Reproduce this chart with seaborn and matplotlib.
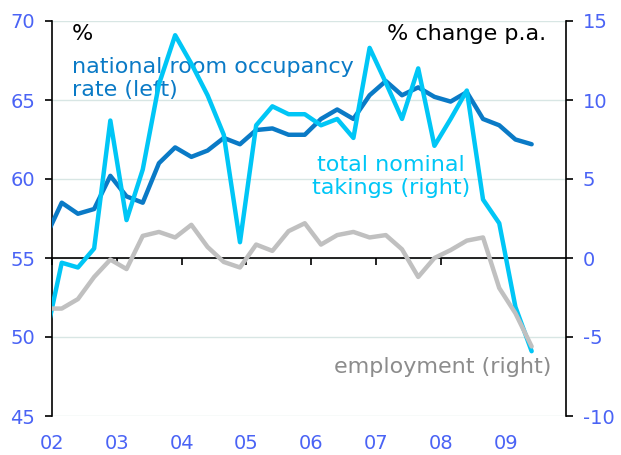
import numpy as np
import pandas as pd
import matplotlib
matplotlib.use("Agg")
import matplotlib.pyplot as plt
import seaborn as sns

# ---- data (quarterly; first quarter lies just left of the visible range) ----
quarters = pd.period_range("2001Q4", "2009Q2", freq="Q")
occupancy = [56.3, 58.5, 57.8, 58.1, 60.2, 58.9, 58.5, 61.0, 62.0, 61.4, 61.8,
             62.6, 62.2, 63.1, 63.2, 62.8, 62.8, 63.8, 64.4, 63.8, 65.3,
             66.2, 65.3, 65.8, 65.2, 64.9, 65.5, 63.8, 63.4, 62.5, 62.2]
takings = [-5.1, -0.3, -0.6, 0.6, 8.7, 2.4, 5.6, 11.0, 14.1, 12.3, 10.3,
           7.8, 1.0, 8.4, 9.6, 9.1, 9.1, 8.4, 8.8, 7.6, 13.3,
           11.1, 8.8, 12.0, 7.1, 8.8, 10.6, 3.7, 2.2, -3.1, -5.9]
employment = [-3.2, -3.2, -2.6, -1.2, -0.1, -0.7, 1.4, 1.65, 1.3, 2.1, 0.7,
              -0.25, -0.6, 0.85, 0.45, 1.7, 2.2, 0.85, 1.45, 1.65, 1.3,
              1.45, 0.55, -1.2, 0.0, 0.5, 1.1, 1.3, -1.9, -3.5, -5.6]
year_ticks = [2002, 2003, 2004, 2005, 2006, 2007, 2008, 2009]
year_labels = ["02", "03", "04", "05", "06", "07", "08", "09"]
left_ticks = [45, 50, 55, 60, 65, 70]
right_ticks = [-10, -5, 0, 5, 10, 15]

x = np.array([q.year + (q.quarter - 1) / 4 + 0.15 for q in quarters])

# ---- style ----
sns.set_style("white")
plt.rcParams["font.family"] = ["DejaVu Sans"]
plt.rcParams["axes.unicode_minus"] = False
TICK_BLUE = "#4a63f5"
DARK = "#0a7ac6"
CYAN = "#00c6f6"
GREY = "#c0c0c0"
FS = 14
TFS = 16

fig = plt.figure(figsize=(6.21, 4.55), dpi=100)
ax = fig.add_axes([52 / 621, 1 - 416 / 455, (566 - 52) / 621, (416 - 21) / 455])
ax2 = ax.twinx()

sns.lineplot(x=x, y=occupancy, ax=ax, color=DARK, lw=3.2, zorder=3)
sns.lineplot(x=x, y=takings, ax=ax2, color=CYAN, lw=3.2, zorder=3)
sns.lineplot(x=x, y=employment, ax=ax2, color=GREY, lw=3.2, zorder=4)

ax.set_xlim(2002, 2009.93)
ax.set_ylim(45, 70)
ax2.set_ylim(-10, 15)

# grid
ax.set_yticks(left_ticks)
ax.grid(axis="y", color="#d8e6e4", lw=1)
ax.grid(axis="x", visible=False)
ax2.grid(False)
ax2.set_yticks(right_ticks)

# spines
for s in ["top", "bottom", "right"]:
    ax.spines[s].set_visible(False)
ax.spines["left"].set_color("black")
ax.spines["left"].set_linewidth(1.2)
ax2.spines["top"].set_visible(False)
ax2.spines["left"].set_visible(False)
ax2.spines["right"].set_color("black")
ax2.spines["right"].set_linewidth(1.2)
ax2.spines["bottom"].set_position(("data", 0))
ax2.spines["bottom"].set_color("black")
ax2.spines["bottom"].set_linewidth(1.2)
ax2.spines["bottom"].set_visible(True)

# x ticks: labels on ax at bottom, tick marks on the zero line (ax2)
ax.set_xticks(year_ticks)
ax.set_xticklabels(year_labels)
ax.tick_params(axis="x", length=0, pad=13, labelsize=FS, labelcolor=TICK_BLUE)
ax2.xaxis.set_visible(True)
ax2.set_xticks(year_ticks)
ax2.tick_params(axis="x", bottom=True, direction="out", length=5, width=1.2,
                color="black", labelbottom=False)

ax.tick_params(axis="y", left=True, direction="out", length=5, width=1.2,
               color="black", pad=7, labelsize=FS, labelcolor=TICK_BLUE)
ax2.tick_params(axis="y", right=True, direction="out", length=5, width=1.2,
                color="black", pad=7, labelsize=FS, labelcolor=TICK_BLUE)
ax.set_ylabel("")
ax2.set_ylabel("")

# annotations
ax.text(2002.31, 69.8, "%", fontsize=TFS, color="black", va="top", ha="left")
ax.text(2009.63, 69.8, "% change p.a.", fontsize=TFS, color="black",
        va="top", ha="right")
ax.text(2002.31, 67.75, "national room occupancy\nrate (left)", fontsize=TFS,
        color=DARK, va="top", ha="left", linespacing=1.2)
ax.text(2007.23, 61.5, "total nominal\ntakings (right)", fontsize=TFS,
        color=CYAN, va="top", ha="center", linespacing=1.15)
ax.text(2009.7, 48.75, "employment (right)", fontsize=TFS, color="#8c8c8c",
        va="top", ha="right")

fig.savefig("out.png", dpi=100)
